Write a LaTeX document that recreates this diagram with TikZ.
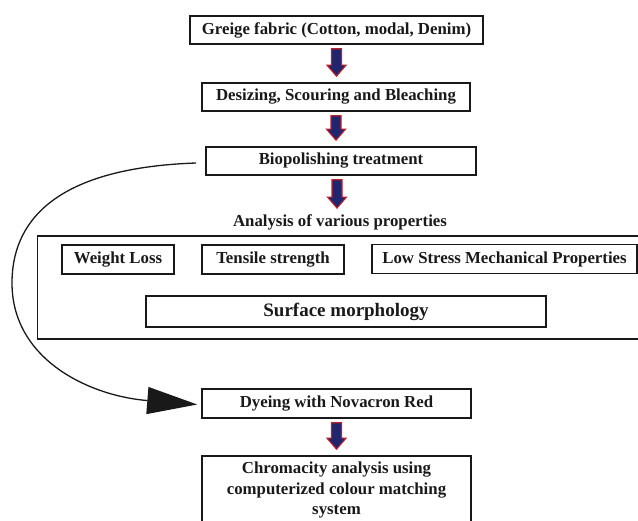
\documentclass[tikz,border=0pt]{standalone}
\usepackage{fontspec}
\setmainfont{Liberation Serif}
\usetikzlibrary{calc,arrows.meta}
\definecolor{navyfill}{RGB}{31,38,110}
\definecolor{redline}{RGB}{190,30,45}
\definecolor{ink}{RGB}{25,25,25}
\tikzset{
  box/.style={draw=ink, line width=1.6pt, minimum height=28pt, inner sep=0pt,
    font=\fontsize{16.8}{20}\selectfont\bfseries, text=ink},
  barrow/.style={fill=navyfill, draw=redline, line width=1.1pt, line join=miter},
  loopline/.style={draw=ink, line width=1.3pt, -{Triangle[length=50pt,width=27pt]}},
}
\newcommand\blockarr[3][0pt]{%
  \draw[barrow] let \p1=(#2.south), \p2=(#3.north) in
    ($(\x1,\y1)+(#1,0)+(-5pt,-4pt)$) -- ++(10pt,0) -- ($(\x1,\y2)+(#1,0)+(5pt,17pt)$)
    -- ++(4.5pt,0) -- ($(\x1,\y2)+(#1,0)+(0,6pt)$) -- ($(\x1,\y2)+(#1,0)+(-9.5pt,17pt)$)
    -- ++(4.5pt,0) -- cycle;}
\begin{document}
\begin{tikzpicture}[x=1pt,y=-1pt]
\useasboundingbox (0,0) rectangle (638,521);
\clip (0,0) rectangle (638,521);
% main column
\node[box, minimum width=293pt] (b1) at (336.5,30) {Greige fabric (Cotton, modal, Denim)};
\node[box, minimum width=268pt] (b2) at (336,97) {Desizing, Scouring and Bleaching};
\node[box, minimum width=270pt] (b3) at (341,161) {Biopolishing treatment};
\node[font=\fontsize{16.8}{20}\selectfont\bfseries, text=ink, inner sep=0pt] (an) at (340,222) {Analysis of various properties};
\node[draw=ink, line width=1.6pt, minimum width=603pt, minimum height=103pt, inner sep=0pt] (outer) at (339,287.5) {};
\node[box, minimum width=112pt, minimum height=29pt] (wl) at (118,259.5) {Weight Loss};
\node[box, minimum width=142pt, minimum height=29pt] (ts) at (273,259.5) {Tensile strength};
\node[box, minimum width=265pt, minimum height=29pt] (ls) at (504.5,259) {Low Stress Mechanical Properties};
\node[box, minimum width=400pt, minimum height=31pt, font=\fontsize{19}{22}\selectfont\bfseries] (sm) at (346,311.5) {Surface morphology};
\node[box, minimum width=269pt, minimum height=29pt] (dy) at (336.5,403.5) {Dyeing with Novacron Red};
\node[box, minimum width=269pt, minimum height=76pt, inner sep=0pt] (ch) at (336.5,494) {};
\node[align=center, inner sep=0pt, text=ink,
  font=\fontsize{16.8}{20.5}\selectfont\bfseries] (cht) at (336.5,490) {Chromacity analysis using\\computerized colour matching\\system};
% block arrows
\blockarr{b1}{b2}
\blockarr{b2}{b3}
\blockarr[-4pt]{b3}{an}
\blockarr{dy}{ch}
% loop connector
\draw[loopline] ($(b3.west)+(-9pt,-2pt)$) .. controls (50,168) and (12,225) .. (12,283)
  .. controls (12,360) and (90,396) .. ($(dy.west)+(-4pt,-1pt)$);
\end{tikzpicture}
\end{document}
